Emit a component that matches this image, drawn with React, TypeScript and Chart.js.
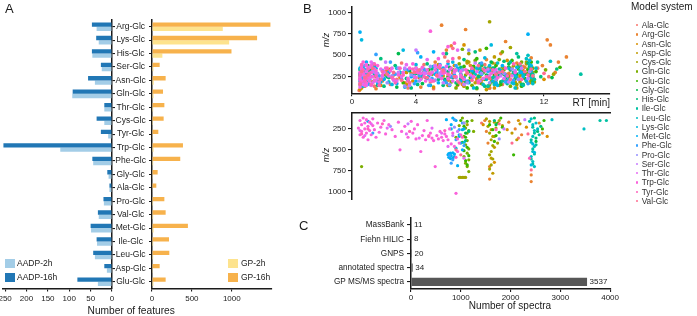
import React, { useEffect, useRef } from "react";
import { Chart, registerables } from "chart.js";

Chart.register(...registerables);

const FONT = '"Liberation Sans", Arial, Helvetica, sans-serif';
const INK = "#1b1b1b";

// ---------- Panel A ----------
const featureCategories = ["Arg-Glc", "Lys-Glc", "His-Glc", "Ser-Glc", "Asn-Glc", "Gln-Glc", "Thr-Glc", "Cys-Glc", "Tyr-Glc", "Trp-Glc", "Phe-Glc", "Gly-Glc", "Ala-Glc", "Pro-Glc", "Val-Glc", "Met-Glc", "Ile-Glc", "Leu-Glc", "Asp-Glc", "Glu-Glc"];
const aadp2h = [36, 31, 46, 24, 40, 93, 18, 18, 9, 121, 44, 8, 6, 19, 31, 49, 35, 40, 12, 33];
const aadp16h = [47, 37, 47, 26, 56, 92, 18, 36, 26, 254, 46, 11, 6, 20, 33, 50, 36, 44, 18, 81];
const gp2h = [887, 967, 130, 18, 22, 20, 15, 12, 10, 20, 15, 10, 8, 14, 15, 20, 15, 15, 10, 18];
const gp16h = [1484, 1317, 996, 96, 171, 138, 155, 146, 79, 388, 354, 71, 54, 155, 171, 450, 213, 217, 96, 171];
const aadpTicks = [0, 50, 100, 150, 200, 250];
const gpTicks = [0, 500, 1000];

// ---------- Panel B ----------
const rtTicks = [0, 4, 8, 12];
const mzTicks = [250, 500, 750, 1000];
const modelSystems = ["Ala-Glc", "Arg-Glc", "Asn-Glc", "Asp-Glc", "Cys-Glc", "Gln-Glc", "Glu-Glc", "Gly-Glc", "His-Glc", "Ile-Glc", "Leu-Glc", "Lys-Glc", "Met-Glc", "Phe-Glc", "Pro-Glc", "Ser-Glc", "Thr-Glc", "Trp-Glc", "Tyr-Glc", "Val-Glc"];
const hueColors = ["#F8766D", "#EA8331", "#D89000", "#C09B00", "#A3A500", "#7CAE00", "#39B600", "#00BB4E", "#00BF7D", "#00C1A3", "#00BFC4", "#00BAE0", "#00B0F6", "#35A2FF", "#9590FF", "#C77CFF", "#E76BF3", "#FA62DB", "#FF62BC", "#FF6C91"];

// upper scatter (RT min, m/z)
const topAla = [[0.6,180],[0.9,260],[1.4,140],[2.1,310],[2.8,220],[3.5,120],[4.2,280],[4.9,190],[5.5,350],[6.1,240],[6.6,150],[7.2,320],[7.8,210],[8.3,390],[8.9,270],[9.4,160],[9.9,330],[10.4,230],[10.9,290],[11.6,350],[12.3,250],[5.8,480],[3.1,410],[0.45,90],[1.2,330],[2.4,160],[3.9,240],[5.1,110],[6.3,290],[7.5,250],[8.6,120],[9.6,280],[10.7,370],[11.2,200],[4.5,390]];
const topArg = [[0.5,230],[0.8,140],[1.2,320],[1.9,200],[2.6,270],[3.3,180],[4.0,350],[4.6,240],[5.2,420],[5.6,850],[5.9,560],[6.3,300],[6.7,470],[7.1,800],[7.4,380],[7.9,260],[8.4,450],[8.8,330],[9.3,520],[9.8,290],[10.3,410],[10.8,360],[11.2,470],[11.9,380],[12.2,680],[12.4,620],[12.7,300],[13.4,480],[6.2,610],[9.6,660],[0.6,370],[1.0,260],[1.5,110],[2.2,330],[3.0,240],[3.7,290],[4.3,130],[5.0,300],[6.0,210],[6.9,160],[7.6,330],[8.1,210],[8.6,120],[9.0,400],[9.5,210],[10.0,350],[10.6,150],[11.0,280],[11.3,230],[12.9,420]];
const topAsn = [[0.7,300],[1.1,210],[1.8,150],[2.4,340],[3.0,260],[3.8,200],[4.5,310],[5.1,130],[5.7,260],[6.4,380],[6.9,200],[7.5,290],[8.1,170],[8.6,360],[9.1,240],[9.7,440],[10.2,190],[10.7,320],[11.1,260],[12.0,220],[7.0,620],[0.5,100],[1.4,380],[2.1,270],[3.4,160],[4.2,240],[5.4,390],[6.0,150],[7.2,410],[7.8,230],[8.9,120],[9.4,320],[10.5,260]];
const topAsp = [[0.6,120],[1.5,250],[3.4,300],[6.8,260],[7.3,420],[7.7,180],[8.2,310],[8.7,230],[8.9,480],[9.2,150],[9.5,350],[10.0,270],[10.5,190],[10.9,400],[11.3,300],[8.0,560],[7.0,140],[7.5,330],[8.0,400],[8.4,100],[9.0,210],[9.8,360],[10.3,120],[10.8,280],[11.1,180]];
const topCys = [[0.8,170],[2.0,280],[4.3,230],[6.5,330],[7.0,210],[7.6,360],[8.0,250],[8.5,140],[8.6,890],[8.8,410],[9.1,290],[9.6,200],[10.1,380],[10.6,280],[11.0,340],[11.4,190],[12.6,280],[7.3,520],[9.9,590],[7.2,430],[7.8,110],[8.3,320],[8.9,180],[9.4,360],[9.8,250],[10.3,160],[10.9,420],[11.2,260]];
const topGln = [[0.5,260],[1.3,190],[2.5,240],[5.0,280],[6.2,190],[6.7,400],[7.1,270],[7.5,150],[7.9,340],[8.3,220],[8.8,300],[9.2,450],[9.7,260],[10.2,170],[10.6,420],[11.0,290],[11.2,210],[12.1,330],[6.9,570],[9.4,540],[6.5,120],[6.9,330],[7.3,200],[7.7,440],[8.1,380],[8.6,160],[9.0,240],[9.5,330],[9.9,140],[10.4,380],[10.9,200],[11.3,350]];
const topGlu = [[0.9,300],[1.7,220],[3.2,180],[4.8,330],[6.0,250],[6.6,160],[7.0,370],[7.4,240],[7.8,460],[8.2,300],[8.7,190],[9.0,380],[9.5,280],[10.0,440],[10.4,340],[10.8,230],[11.2,420],[11.5,310],[13.0,360],[8.4,580],[6.3,330],[6.8,270],[7.2,120],[7.6,370],[8.0,180],[8.5,350],[8.9,270],[9.3,160],[9.8,360],[10.2,230],[10.6,140],[11.0,330]];
const topGly = [[0.6,150],[1.0,380],[2.2,250],[3.6,320],[4.4,170],[5.3,290],[6.1,360],[6.8,230],[7.3,310],[7.8,120],[8.4,270],[8.9,350],[9.3,190],[9.8,400],[10.3,280],[10.7,160],[11.1,370],[12.5,240],[2.9,520],[0.5,270],[1.6,200],[2.8,130],[4.0,290],[5.8,220],[7.1,190],[8.1,330],[8.7,420],[9.6,240],[10.5,360],[11.3,250]];
const topHis = [[0.5,330],[0.9,200],[1.4,270],[2.0,140],[2.7,380],[3.4,230],[4.1,160],[4.7,400],[5.4,220],[6.0,310],[6.5,180],[7.0,450],[7.6,300],[8.1,390],[8.5,260],[9.0,170],[9.5,430],[9.9,330],[10.4,480],[10.8,280],[11.2,360],[11.3,190],[11.8,250],[5.9,520],[7.7,540],[1.8,460],[0.7,250],[1.1,320],[1.6,150],[2.3,240],[3.0,300],[3.7,120],[4.4,280],[5.0,340],[5.7,150],[6.3,240],[6.8,360],[7.3,190],[7.9,250],[8.3,140],[8.8,350],[9.2,270],[9.7,200],[10.1,290],[10.6,160],[11.0,410],[11.2,280],[12.8,340]];
const topIle = [[1.0,240],[3.9,270],[7.9,200],[8.3,350],[8.8,240],[9.2,340],[9.7,170],[10.1,300],[10.5,380],[10.9,200],[11.3,280],[11.6,420],[14.3,280],[10.3,520],[8.0,400],[8.5,140],[9.0,300],[9.4,200],[9.9,420],[10.3,240],[10.7,150],[11.1,350],[11.4,220]];
const topLeu = [[0.7,350],[2.3,190],[5.6,230],[7.7,280],[8.2,160],[8.6,320],[9.1,410],[9.6,250],[10.0,180],[10.5,330],[10.9,460],[11.2,240],[11.5,350],[12.4,430],[11.0,500],[8.0,350],[8.4,220],[8.9,160],[9.3,290],[9.8,350],[10.2,120],[10.7,270],[11.1,390],[11.3,170]];
const topLys = [[0.5,200],[0.6,680],[0.8,290],[1.1,160],[1.5,350],[2.0,230],[2.5,160],[3.0,300],[3.5,210],[4.0,390],[4.4,260],[4.9,150],[5.3,330],[5.8,200],[6.3,420],[6.8,280],[7.3,180],[7.8,350],[8.3,470],[8.8,200],[9.3,320],[9.8,220],[10.3,360],[10.7,250],[11.1,440],[3.2,560],[8.7,620],[0.5,350],[0.7,140],[1.0,240],[1.3,310],[1.8,190],[2.2,270],[2.8,350],[3.3,130],[3.8,260],[4.2,310],[4.7,230],[5.1,370],[5.6,270],[6.1,150],[6.6,350],[7.0,240],[7.6,120],[8.1,280],[8.6,380],[9.1,150],[9.6,270],[10.1,170],[10.5,300],[10.9,210],[11.2,380]];
const topMet = [[0.5,770],[0.5,290],[0.7,210],[0.9,420],[1.2,250],[1.6,180],[2.3,300],[3.7,250],[4.3,480],[4.8,260],[5.4,180],[6.0,400],[6.4,270],[8.0,300],[9.4,380],[10.6,300],[11.0,745],[11.2,320],[5.1,540],[0.6,150],[0.8,330],[1.0,270],[1.4,360],[2.0,220],[2.8,170],[3.3,340],[4.0,200],[4.6,320],[5.2,280],[5.7,350],[6.8,200],[7.5,320],[9.0,180],[10.2,260]];
const topPhe = [[0.6,240],[0.8,380],[1.0,170],[1.3,300],[1.7,260],[2.4,420],[3.1,220],[3.9,170],[4.5,340],[5.0,230],[5.5,390],[6.2,250],[6.7,320],[7.2,200],[8.1,410],[9.0,260],[10.1,210],[11.0,170],[4.1,530],[1.5,510],[0.5,160],[0.7,290],[0.9,330],[1.1,220],[1.9,320],[2.7,280],[3.5,330],[4.2,260],[4.8,150],[5.3,310],[5.9,180],[6.5,380],[7.5,240],[8.5,310],[9.6,190]];
const topPro = [[0.6,330],[1.0,220],[1.6,290],[2.2,180],[2.9,350],[3.7,270],[4.2,200],[4.9,370],[5.5,290],[6.1,160],[6.9,330],[7.6,250],[8.6,180],[9.5,290],[10.4,220],[11.1,310],[7.3,560],[0.8,190],[1.3,400],[2.5,260],[3.3,140],[4.5,300],[5.2,210],[5.8,330],[6.5,240],[7.2,180],[8.1,290],[9.0,220],[10.0,340]];
const topSer = [[0.7,270],[1.1,360],[1.5,200],[2.1,420],[2.6,210],[3.3,350],[3.9,250],[4.6,290],[5.2,370],[5.7,180],[6.4,300],[7.0,160],[7.7,410],[8.5,340],[9.3,260],[10.2,320],[11.0,230],[4.0,560],[0.5,220],[0.9,150],[1.3,310],[1.9,250],[2.9,300],[3.6,150],[4.3,330],[4.9,210],[5.5,280],[6.1,330],[6.8,250],[8.0,200],[8.9,300],[9.8,190],[10.6,350]];
const topThr = [[0.5,250],[0.6,380],[0.7,160],[0.9,310],[1.0,230],[1.2,420],[1.3,180],[1.5,290],[1.8,340],[2.3,260],[2.8,200],[3.4,390],[3.9,310],[4.3,220],[4.7,450],[5.0,300],[5.4,250],[5.9,370],[6.3,200],[6.8,310],[7.4,270],[8.2,230],[9.0,330],[10.0,260],[6.6,560],[5.7,520],[0.5,130],[0.6,300],[0.8,220],[0.9,390],[1.1,270],[1.2,150],[1.4,340],[1.6,230],[2.0,300],[2.5,350],[3.1,250],[3.6,180],[4.0,350],[4.5,290],[4.9,210],[5.2,380],[5.6,310],[6.1,270],[6.5,330],[7.0,220],[7.8,310],[8.6,260],[9.5,230]];
const topTrp = [[0.5,300],[0.6,200],[0.7,420],[0.8,260],[0.9,180],[1.0,350],[1.1,240],[1.2,300],[1.4,210],[1.6,380],[1.9,270],[2.4,320],[2.9,270],[3.5,230],[3.8,400],[4.1,300],[4.4,360],[4.6,200],[4.9,280],[4.9,780],[5.2,330],[5.4,460],[5.6,230],[5.8,300],[6.2,350],[6.5,250],[7.1,330],[7.9,200],[8.7,290],[9.6,350],[6.0,600],[0.5,220],[0.6,350],[0.7,290],[0.8,150],[0.9,380],[1.0,260],[1.1,200],[1.2,380],[1.3,250],[1.5,320],[1.7,190],[2.1,350],[2.6,220],[3.2,300],[3.6,350],[4.0,240],[4.3,290],[4.7,330],[5.0,200],[5.3,270],[5.5,380],[5.7,290],[6.0,230],[6.4,320],[6.8,270],[7.6,250],[8.3,320],[9.1,240],[10.2,300]];
const topTyr = [[0.5,180],[0.7,330],[0.9,230],[1.1,290],[1.4,400],[1.7,150],[2.2,350],[2.7,180],[3.2,270],[3.8,340],[4.5,250],[5.1,200],[5.7,310],[6.3,460],[6.9,240],[7.5,350],[8.4,250],[9.2,300],[10.1,400],[11.0,270],[6.4,640],[0.5,270],[0.6,390],[0.8,200],[1.0,340],[1.2,160],[1.5,260],[1.9,310],[2.5,240],[3.0,350],[3.5,200],[4.1,320],[4.8,290],[5.4,360],[6.0,280],[6.6,200],[7.2,300],[7.9,180],[8.8,330],[9.7,260],[10.6,220]];
const topVal = [[0.6,310],[1.0,270],[1.8,220],[2.6,300],[3.6,180],[4.2,330],[5.3,260],[6.0,430],[6.7,180],[7.2,290],[7.9,380],[8.6,230],[9.4,310],[10.5,400],[11.2,340],[12.0,290],[6.3,580],[0.5,160],[0.8,240],[1.3,350],[2.2,280],[3.1,210],[3.9,300],[4.7,240],[5.7,330],[6.4,250],[7.5,210],[8.2,340],[9.0,280],[9.9,220],[10.8,310],[11.3,260]];

// lower (mirrored) scatter (RT min, m/z)
const botAla = [[8.1,180],[10.4,360]];
const botArg = [[8.3,150],[8.4,280],[8.5,420],[8.6,700],[8.6,850],[9.8,170],[10.2,250],[10.6,320],[11.2,800],[11.2,880],[11.9,300],[11.7,180]];
const botAsn = [[8.2,200],[9.7,260],[10.4,150],[10.9,230],[12.2,340],[8.9,650]];
const botAsp = [[8.6,160],[8.7,260],[8.8,340],[8.9,470],[8.7,600],[8.8,780],[9.2,150],[9.4,210],[10.0,300],[10.3,380],[10.5,190]];
const botCys = [[8.4,130],[8.5,220],[8.6,300],[8.7,380],[8.8,450],[8.7,520],[8.6,560],[8.8,610],[8.7,680],[8.6,730],[8.9,170],[9.0,240],[8.9,340],[9.1,420],[7.2,200],[6.7,830],[6.8,830],[6.9,830],[7.0,830],[7.1,830]];
const botGln = [[6.9,120],[7.0,180],[7.1,240],[7.2,300],[7.0,340],[7.2,390],[7.1,440],[7.3,490],[7.2,540],[7.0,580],[7.3,620],[7.1,660],[7.2,700],[7.3,760],[6.7,210],[6.5,350],[7.5,150],[7.6,280],[0.6,700]];
const botGlu = [[6.8,150],[7.0,220],[7.2,160],[7.3,270],[7.1,350],[6.9,410],[7.2,470],[7.0,510],[7.3,570],[7.1,630],[7.2,680],[8.6,200],[8.8,260],[9.0,330],[8.9,400],[9.1,180],[9.3,120],[9.2,290],[9.4,230],[10.1,560],[11.9,250],[12.0,150]];
const botGly = [[7.1,300],[9.0,200],[11.5,400]];
const botHis = [[11.4,120],[11.6,280],[11.5,360],[7.3,280],[7.1,390],[8.9,150],[11.8,220]];
const botIle = [[11.1,160],[11.3,230],[11.4,300],[11.2,380],[11.5,440],[11.3,490],[11.4,550],[11.2,610],[11.3,670],[11.7,320],[15.5,150],[15.9,150]];
const botLeu = [[11.2,130],[11.3,200],[11.4,270],[11.3,340],[11.2,410],[11.4,460],[11.3,520],[11.2,580],[11.3,640],[11.4,700],[11.5,180],[11.6,250],[12.5,140],[14.5,250]];
const botLys = [[6.7,340],[6.9,260],[7.0,410],[11.3,430],[11.4,530],[11.2,680],[6.2,250],[6.5,480]];
const botMet = [[6.0,560],[6.05,590],[6.15,605],[6.3,600],[6.4,580],[6.4,550],[6.3,535],[6.15,540],[6.05,545],[6.2,570],[6.2,200],[6.5,150],[6.7,320],[6.8,420],[6.9,500],[6.6,690],[7.0,250],[1.0,160],[5.9,140],[6.3,120]];
const botPhe = [[6.1,570],[6.3,620],[6.5,380],[6.7,260],[6.9,180],[7.0,450],[6.4,140],[1.3,300],[6.2,660]];
const botPro = [[6.4,230],[7.0,180],[9.2,370],[2.4,220]];
const botSer = [[6.3,330],[6.6,280],[9.5,250],[10.8,140],[3.5,190]];
const botThr = [[0.5,270],[0.8,330],[1.2,190],[2.2,240],[3.4,310],[4.2,360],[5.0,240],[5.6,300],[6.0,460],[7.0,600]];
const botTrp = [[0.4,240],[0.5,150],[0.5,320],[0.6,200],[0.6,280],[0.7,120],[0.7,350],[0.8,180],[0.8,250],[0.9,300],[0.9,140],[1.0,220],[1.0,380],[1.1,170],[1.1,270],[1.2,320],[1.3,210],[1.3,130],[1.4,260],[1.5,350],[1.6,180],[1.7,290],[1.8,230],[2.0,150],[2.1,310],[2.3,200],[2.5,260],[2.7,340],[2.9,170],[3.0,500],[3.1,280],[3.3,220],[3.5,350],[3.7,160],[3.8,300],[3.9,250],[4.0,370],[4.1,200],[4.3,520],[4.4,330],[4.5,270],[4.6,380],[4.7,150],[4.8,340],[4.9,300],[5.0,360],[5.1,390],[5.2,700],[5.3,330],[5.4,370],[5.5,280],[5.6,350],[5.7,390],[5.8,310],[5.9,340],[6.0,380],[6.1,250],[6.2,430],[6.3,300],[6.5,1020],[6.6,370],[6.8,320],[6.4,460],[6.6,520],[6.7,420]];
const botTyr = [[0.6,310],[1.0,250],[1.9,190],[3.6,280],[4.8,330],[5.8,270],[6.5,590],[6.9,350],[9.0,260],[11.1,600]];
const botVal = [[6.5,500],[6.8,560],[9.2,190],[10.0,420],[11.0,310],[11.2,740]];

const topSeries = [topAla, topArg, topAsn, topAsp, topCys, topGln, topGlu, topGly, topHis, topIle, topLeu, topLys, topMet, topPhe, topPro, topSer, topThr, topTrp, topTyr, topVal];
const botSeries = [botAla, botArg, botAsn, botAsp, botCys, botGln, botGlu, botGly, botHis, botIle, botLeu, botLys, botMet, botPhe, botPro, botSer, botThr, botTrp, botTyr, botVal];

// ---------- Panel C ----------
const spectraSources = ["MassBank", "Fiehn HILIC", "GNPS", "annotated spectra", "GP MS/MS spectra"];
const spectraCounts = [11, 8, 20, 34, 3537];
const spectraTicks = [0, 1000, 2000, 3000, 4000];

// ---------- colours ----------
const C_AADP2 = "#a3cde7";
const C_AADP16 = "#2177b5";
const C_GP2 = "#fde38e";
const C_GP16 = "#f7b24c";
const C_SPEC = "#575757";

const fixedTicks = (values: number[]) => (scale: any) => {
  scale.ticks = values.map((v) => ({ value: v }));
};
const fixW = (w: number) => (s: any) => {
  s.width = w;
};
const fixH = (h: number) => (s: any) => {
  s.height = h;
};
const plain = (v: any) => String(v);
const border = { color: INK, width: 1.5 };
const tickGrid = (len: number, extra: any = {}) => ({ drawOnChartArea: false, tickLength: len, color: INK, lineWidth: 1.1, ...extra });
const tf = (size: number) => ({ family: FONT, size });

function Txt(props: any) {
  const { x, y, size, children, align = "left", italic = false, rotate = false, color = INK } = props;
  const tx = align === "center" ? "-50%" : align === "right" ? "-100%" : "0";
  const style: any = {
    position: "absolute",
    left: x,
    top: rotate ? y : y - size / 2,
    fontFamily: FONT,
    fontSize: size,
    lineHeight: `${size}px`,
    whiteSpace: "nowrap",
    color,
    fontStyle: italic ? "italic" : "normal",
    transform: rotate ? "translate(-50%,-50%) rotate(-90deg)" : `translateX(${tx})`,
  };
  return <div style={style}>{children}</div>;
}

function Sq({ x, y, w, h, color }: any) {
  return <div style={{ position: "absolute", left: x, top: y, width: w, height: h, background: color }} />;
}

export default function App() {
  const aL = useRef<HTMLCanvasElement>(null);
  const aR = useRef<HTMLCanvasElement>(null);
  const bT = useRef<HTMLCanvasElement>(null);
  const bB = useRef<HTMLCanvasElement>(null);
  const cC = useRef<HTMLCanvasElement>(null);

  useEffect(() => {
    const charts: Chart[] = [];
    const base = {
      responsive: false,
      animation: false as const,
      events: [] as any[],
      plugins: { legend: { display: false }, tooltip: { enabled: false } },
    };

    // A left: AADP
    charts.push(
      new Chart(aL.current!, {
        type: "bar",
        data: {
          labels: featureCategories,
          datasets: [
            { label: "AADP-16h", data: aadp16h, backgroundColor: C_AADP16, categoryPercentage: 0.64, barPercentage: 1 },
            { label: "AADP-2h", data: aadp2h, backgroundColor: C_AADP2, categoryPercentage: 0.64, barPercentage: 1 },
          ],
        },
        options: {
          ...base,
          indexAxis: "y",
          layout: { padding: { left: 3, right: 0, top: 20, bottom: 0 } },
          scales: {
            x: {
              type: "linear",
              reverse: true,
              min: 0,
              max: 255,
              afterBuildTicks: fixedTicks(aadpTicks),
              afterFit: fixH(27.5),
              border,
              grid: tickGrid(3),
              ticks: { font: tf(8), color: INK, padding: 2, maxRotation: 0, autoSkip: false, callback: plain },
            },
            y: {
              position: "right",
              afterFit: fixW(8),
              border,
              grid: tickGrid(3, { offset: false }),
              ticks: { display: false },
            },
          },
        } as any,
      })
    );

    // A right: GP
    charts.push(
      new Chart(aR.current!, {
        type: "bar",
        data: {
          labels: featureCategories,
          datasets: [
            { label: "GP-16h", data: gp16h, backgroundColor: C_GP16, categoryPercentage: 0.64, barPercentage: 1 },
            { label: "GP-2h", data: gp2h, backgroundColor: C_GP2, categoryPercentage: 0.64, barPercentage: 1 },
          ],
        },
        options: {
          ...base,
          indexAxis: "y",
          layout: { padding: { left: 0, right: 5.3, top: 20, bottom: 0 } },
          scales: {
            x: {
              type: "linear",
              min: 0,
              max: 1500,
              afterBuildTicks: fixedTicks(gpTicks),
              afterFit: fixH(27.5),
              border,
              grid: tickGrid(3),
              ticks: { font: tf(8), color: INK, padding: 2, maxRotation: 0, autoSkip: false, callback: plain },
            },
            y: {
              position: "left",
              afterFit: fixW(40),
              border,
              grid: tickGrid(3, { offset: false }),
              ticks: { font: tf(8.5), color: INK, padding: 3, crossAlign: "center", autoSkip: false },
            },
          },
        } as any,
      })
    );

    const scatterSets = (series: number[][][], r: number) =>
      series.map((pts, i) => ({
        label: modelSystems[i],
        data: pts.map(([x, y]) => ({ x, y })),
        backgroundColor: hueColors[i],
        borderWidth: 0,
        pointRadius: r,
        order: 19 - i,
      }));

    // B top
    charts.push(
      new Chart(bT.current!, {
        type: "scatter",
        data: { datasets: scatterSets(topSeries, 1.85) },
        options: {
          ...base,
          layout: { padding: { left: 0, right: 10, top: 3, bottom: 0 } },
          scales: {
            x: {
              type: "linear",
              min: 0,
              max: 16.125,
              afterBuildTicks: fixedTicks(rtTicks),
              afterFit: fixH(18.7),
              border,
              grid: tickGrid(3),
              ticks: { font: tf(8), color: INK, padding: 1, maxRotation: 0, autoSkip: false, callback: plain },
            },
            y: {
              type: "linear",
              min: 57,
              max: 1064,
              afterBuildTicks: fixedTicks(mzTicks),
              afterFit: fixW(32),
              border,
              grid: tickGrid(4),
              ticks: { font: tf(8), color: INK, padding: 2, autoSkip: false, callback: plain },
            },
          },
        } as any,
      })
    );

    // B bottom (mirrored)
    charts.push(
      new Chart(bB.current!, {
        type: "scatter",
        data: { datasets: scatterSets(botSeries, 1.6) },
        options: {
          ...base,
          layout: { padding: { left: 0, right: 10, top: 7.3, bottom: 0 } },
          scales: {
            x: {
              type: "linear",
              position: "top",
              min: 0,
              max: 16.125,
              afterBuildTicks: fixedTicks(rtTicks),
              afterFit: fixH(0),
              border,
              grid: { drawOnChartArea: false, drawTicks: false },
              ticks: { display: false },
            },
            y: {
              type: "linear",
              reverse: true,
              min: 52,
              max: 1090,
              afterBuildTicks: fixedTicks(mzTicks),
              afterFit: fixW(32),
              border,
              grid: tickGrid(4),
              ticks: { font: tf(8), color: INK, padding: 2, autoSkip: false, callback: plain },
            },
          },
        } as any,
      })
    );

    // C
    const valueLabels = {
      id: "valueLabels",
      afterDatasetsDraw(chart: any) {
        const ctx = chart.ctx;
        const meta = chart.getDatasetMeta(0);
        ctx.save();
        ctx.font = `8px ${FONT}`;
        ctx.fillStyle = INK;
        ctx.textAlign = "left";
        ctx.textBaseline = "middle";
        meta.data.forEach((bar: any, i: number) => {
          ctx.fillText(String(spectraCounts[i]), bar.x + 2.5, bar.y);
        });
        ctx.restore();
      },
    };
    charts.push(
      new Chart(cC.current!, {
        type: "bar",
        data: {
          labels: spectraSources,
          datasets: [{ label: "spectra", data: spectraCounts, backgroundColor: C_SPEC, categoryPercentage: 0.95, barPercentage: 0.6 }],
        },
        options: {
          ...base,
          indexAxis: "y",
          layout: { padding: { left: 0, right: 8, top: 6, bottom: 0 } },
          scales: {
            x: {
              type: "linear",
              min: 0,
              max: 4000,
              afterBuildTicks: fixedTicks(spectraTicks),
              afterFit: fixH(27),
              border,
              grid: tickGrid(3),
              ticks: { font: tf(8), color: INK, padding: 1, maxRotation: 0, autoSkip: false, callback: plain },
            },
            y: {
              position: "left",
              afterFit: fixW(91),
              border,
              grid: tickGrid(4, { offset: false }),
              ticks: { font: tf(8.2), color: INK, padding: 3, autoSkip: false },
            },
          },
        } as any,
        plugins: [valueLabels],
      })
    );

    return () => charts.forEach((c) => c.destroy());
  }, []);

  const cv = (ref: any, left: number, top: number, w: number, h: number) => (
    <canvas ref={ref} width={w} height={h} style={{ position: "absolute", left, top, width: w, height: h }} />
  );

  return (
    <div style={{ position: "absolute", left: 0, top: 0, width: 697, height: 316, background: "#fff", overflow: "hidden", fontFamily: FONT }}>
      {cv(aL, 0, 0, 120, 316)}
      {cv(aR, 112, 0, 165, 316)}
      {cv(bT, 320, 0, 300, 112)}
      {cv(bB, 320, 105, 300, 101)}
      {cv(cC, 320, 210, 300, 106)}

      {/* panel letters */}
      <Txt x={5} y={8} size={13}>A</Txt>
      <Txt x={303} y={8} size={13}>B</Txt>
      <Txt x={299} y={225.5} size={13}>C</Txt>

      {/* Panel A legends & title */}
      <Sq x={5} y={259} w={10} h={9} color={C_AADP2} />
      <Txt x={17} y={263.5} size={8.5}>AADP-2h</Txt>
      <Sq x={5} y={273} w={10} h={9} color={C_AADP16} />
      <Txt x={17} y={277.5} size={8.5}>AADP-16h</Txt>
      <Sq x={228} y={259} w={10} h={9} color={C_GP2} />
      <Txt x={241} y={263.5} size={8.5}>GP-2h</Txt>
      <Sq x={228} y={273} w={10} h={9} color={C_GP16} />
      <Txt x={241} y={277.5} size={8.5}>GP-16h</Txt>
      <Txt x={131.2} y={311} size={10.2} align="center">Number of features</Txt>

      {/* Panel B texts */}
      <Txt x={326} y={40} size={9} italic rotate>m/z</Txt>
      <Txt x={326} y={155} size={9} italic rotate>m/z</Txt>
      <Txt x={610} y={103} size={10} align="right">RT [min]</Txt>
      <Txt x={631} y={7} size={10}>Model system</Txt>
      {modelSystems.map((name, i) => (
        <React.Fragment key={name}>
          <div style={{ position: "absolute", left: 635.5, top: 25.3 + i * 9.25 - 1.2, width: 2.4, height: 2.4, borderRadius: "50%", background: hueColors[i] }} />
          <Txt x={641.7} y={25.3 + i * 9.25} size={8.3} color="#333">{name}</Txt>
        </React.Fragment>
      ))}

      {/* Panel C title */}
      <Txt x={510} y={306} size={10} align="center">Number of spectra</Txt>
    </div>
  );
}
